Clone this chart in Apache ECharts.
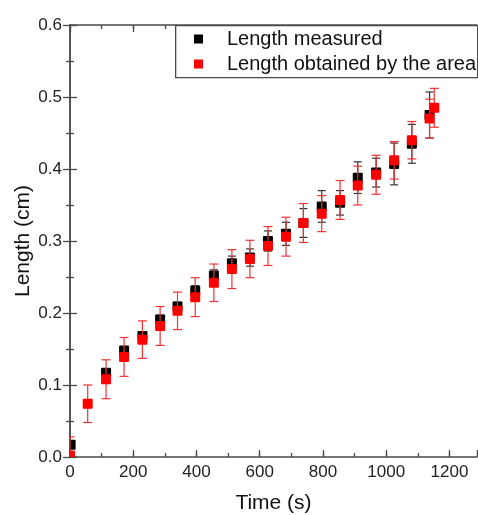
<!DOCTYPE html>
<html>
<head>
<meta charset="utf-8">
<script src="https://cdn.jsdelivr.net/npm/echarts@6/dist/echarts.min.js"></script>
<style>
html,body{margin:0;padding:0;background:#fff;}
#chart{width:478px;height:515px;}
</style>
</head>
<body>
<div id="chart"></div>
<script>
// ---- Data ----
const timeMeasured   = [2, 114, 171, 229, 285, 340, 396, 455, 512, 569, 626, 683, 738, 796, 854, 910, 968, 1025, 1081, 1137];
const lengthMeasured = [0.017, 0.117, 0.148, 0.168, 0.191, 0.209, 0.231, 0.252, 0.269, 0.277, 0.300, 0.310, 0.325, 0.348, 0.353, 0.388, 0.395, 0.407, 0.435, 0.475];
const errMeasured    = [0.004, 0.004, 0.005, 0.005, 0.006, 0.006, 0.007, 0.008, 0.010, 0.012, 0.014, 0.016, 0.020, 0.022, 0.017, 0.022, 0.020, 0.029, 0.027, 0.032];

const timeArea   = [0, 56, 114, 171, 229, 285, 340, 396, 455, 512, 569, 626, 683, 738, 796, 854, 910, 968, 1025, 1081, 1137, 1152];
const lengthArea = [0.002, 0.074, 0.108, 0.139, 0.163, 0.182, 0.203, 0.222, 0.242, 0.261, 0.275, 0.293, 0.306, 0.325, 0.338, 0.357, 0.377, 0.392, 0.412, 0.440, 0.470, 0.485];
const errArea    = [0.026, 0.026, 0.027, 0.027, 0.026, 0.027, 0.026, 0.027, 0.026, 0.027, 0.026, 0.027, 0.027, 0.027, 0.025, 0.027, 0.027, 0.027, 0.026, 0.026, 0.027, 0.027];

const xTicks = [0, 200, 400, 600, 800, 1000, 1200];
const yTicks = [0.0, 0.1, 0.2, 0.3, 0.4, 0.5, 0.6];

const seriesNames = ['Length measured', 'Length obtained by the area'];
const xTitle = 'Time (s)';
const yTitle = 'Length (cm)';

// ---- Build ----
const FONT = '"Liberation Sans", Arial, sans-serif';
const AXIS_COLOR = '#4a4a4a';
const X_MAX = 1287;

function zip(xs, ys, es) { return xs.map((x, i) => [x, ys[i], es[i]]); }

function makeRender(fill, barColor, capW, size) {
  return function (params, api) {
    const x = api.value(0), y = api.value(1), e = api.value(2);
    const c = api.coord([x, y]);
    const hi = api.coord([x, y + e]);
    const lo = api.coord([x, y - e]);
    const ls = { stroke: barColor, lineWidth: 1.2 };
    return {
      type: 'group',
      children: [
        { type: 'line', shape: { x1: c[0], y1: hi[1], x2: c[0], y2: lo[1] }, style: ls },
        { type: 'line', shape: { x1: c[0] - capW / 2, y1: hi[1], x2: c[0] + capW / 2, y2: hi[1] }, style: ls },
        { type: 'line', shape: { x1: c[0] - capW / 2, y1: lo[1], x2: c[0] + capW / 2, y2: lo[1] }, style: ls },
        { type: 'rect', shape: { x: c[0] - size / 2, y: c[1] - size / 2, width: size, height: size, r: 1 }, style: { fill: fill } }
      ]
    };
  };
}

function xAxisDef(position, interval, tickLen, showLabel, showLine) {
  return {
    type: 'value', position: position, min: 0, max: X_MAX, interval: interval,
    nameMoveOverlap: false,
    axisLine: { show: showLine, lineStyle: { color: AXIS_COLOR, width: 1.5 } },
    axisTick: { show: true, inside: true, length: tickLen, lineStyle: { color: AXIS_COLOR, width: 1.3 } },
    axisLabel: {
      show: showLabel, margin: 7, color: '#222', fontFamily: FONT, fontSize: 17,
      formatter: v => (xTicks.indexOf(v) >= 0 ? String(v) : '')
    },
    splitLine: { show: false }
  };
}

const chart = echarts.init(document.getElementById('chart'), null, { renderer: 'canvas' });
const xAxes = [
  Object.assign(xAxisDef('bottom', 200, 7, true, true), {
    name: xTitle, nameLocation: 'middle', nameGap: 36,
    nameTextStyle: { fontFamily: FONT, fontSize: 21, color: '#111' }
  }),
  xAxisDef('bottom', 100, 4, false, false),
  xAxisDef('top', 200, 7, false, true),
  xAxisDef('top', 100, 4, false, false)
];
function yAxisDef(position, showLabel) {
  return {
    type: 'value', position: position, min: 0, max: 0.6, interval: 0.1,
    nameMoveOverlap: false,
    axisLine: { show: true, lineStyle: { color: AXIS_COLOR, width: 1.5 } },
    axisTick: { show: true, inside: true, length: 7, lineStyle: { color: AXIS_COLOR, width: 1.3 } },
    minorTick: { show: true, splitNumber: 2, length: 4, lineStyle: { color: AXIS_COLOR, width: 1.3 } },
    axisLabel: {
      show: showLabel, margin: 8, color: '#222', fontFamily: FONT, fontSize: 17,
      formatter: v => v.toFixed(1)
    },
    splitLine: { show: false }
  };
}
const yAxes = [
  Object.assign(yAxisDef('left', true), {
    name: yTitle, nameLocation: 'middle', nameGap: 36,
    nameTextStyle: { fontFamily: FONT, fontSize: 21, color: '#111' }
  }),
  yAxisDef('right', false)
];

const option = {
  animation: false,
  backgroundColor: '#fff',
  grid: { left: 70, top: 25, right: 1, bottom: 58, containLabel: false, outerBoundsMode: 'none' },
  xAxis: xAxes,
  yAxis: yAxes,
  legend: {
    orient: 'vertical', left: 194, top: 29, padding: 0,
    itemWidth: 9, itemHeight: 9, itemGap: 5,
    data: [{ name: seriesNames[0], icon: 'rect' }, { name: seriesNames[1], icon: 'rect' }],
    textStyle: { fontFamily: FONT, fontSize: 20, color: '#111', lineHeight: 20, padding: [0, 0, 0, 19] },
    z: 10
  },
  graphic: [{
    type: 'rect', left: 175, top: 25, z: 5,
    shape: { width: 302, height: 52 },
    style: { fill: '#fff', stroke: AXIS_COLOR, lineWidth: 1.3 }
  }],
  series: [
    {
      name: seriesNames[0], type: 'custom', xAxisIndex: 0, yAxisIndex: 0, clip: true,
      itemStyle: { color: '#000' },
      encode: { x: 0, y: 1 },
      data: zip(timeMeasured, lengthMeasured, errMeasured),
      renderItem: makeRender('#000', '#333', 8, 10)
    },
    {
      name: seriesNames[1], type: 'custom', xAxisIndex: 0, yAxisIndex: 0, clip: true,
      itemStyle: { color: '#ff0000' },
      encode: { x: 0, y: 1 },
      data: zip(timeArea, lengthArea, errArea),
      renderItem: makeRender('#ff0000', '#ee3333', 9, 10)
    }
  ]
};
chart.setOption(option);
</script>
</body>
</html>
